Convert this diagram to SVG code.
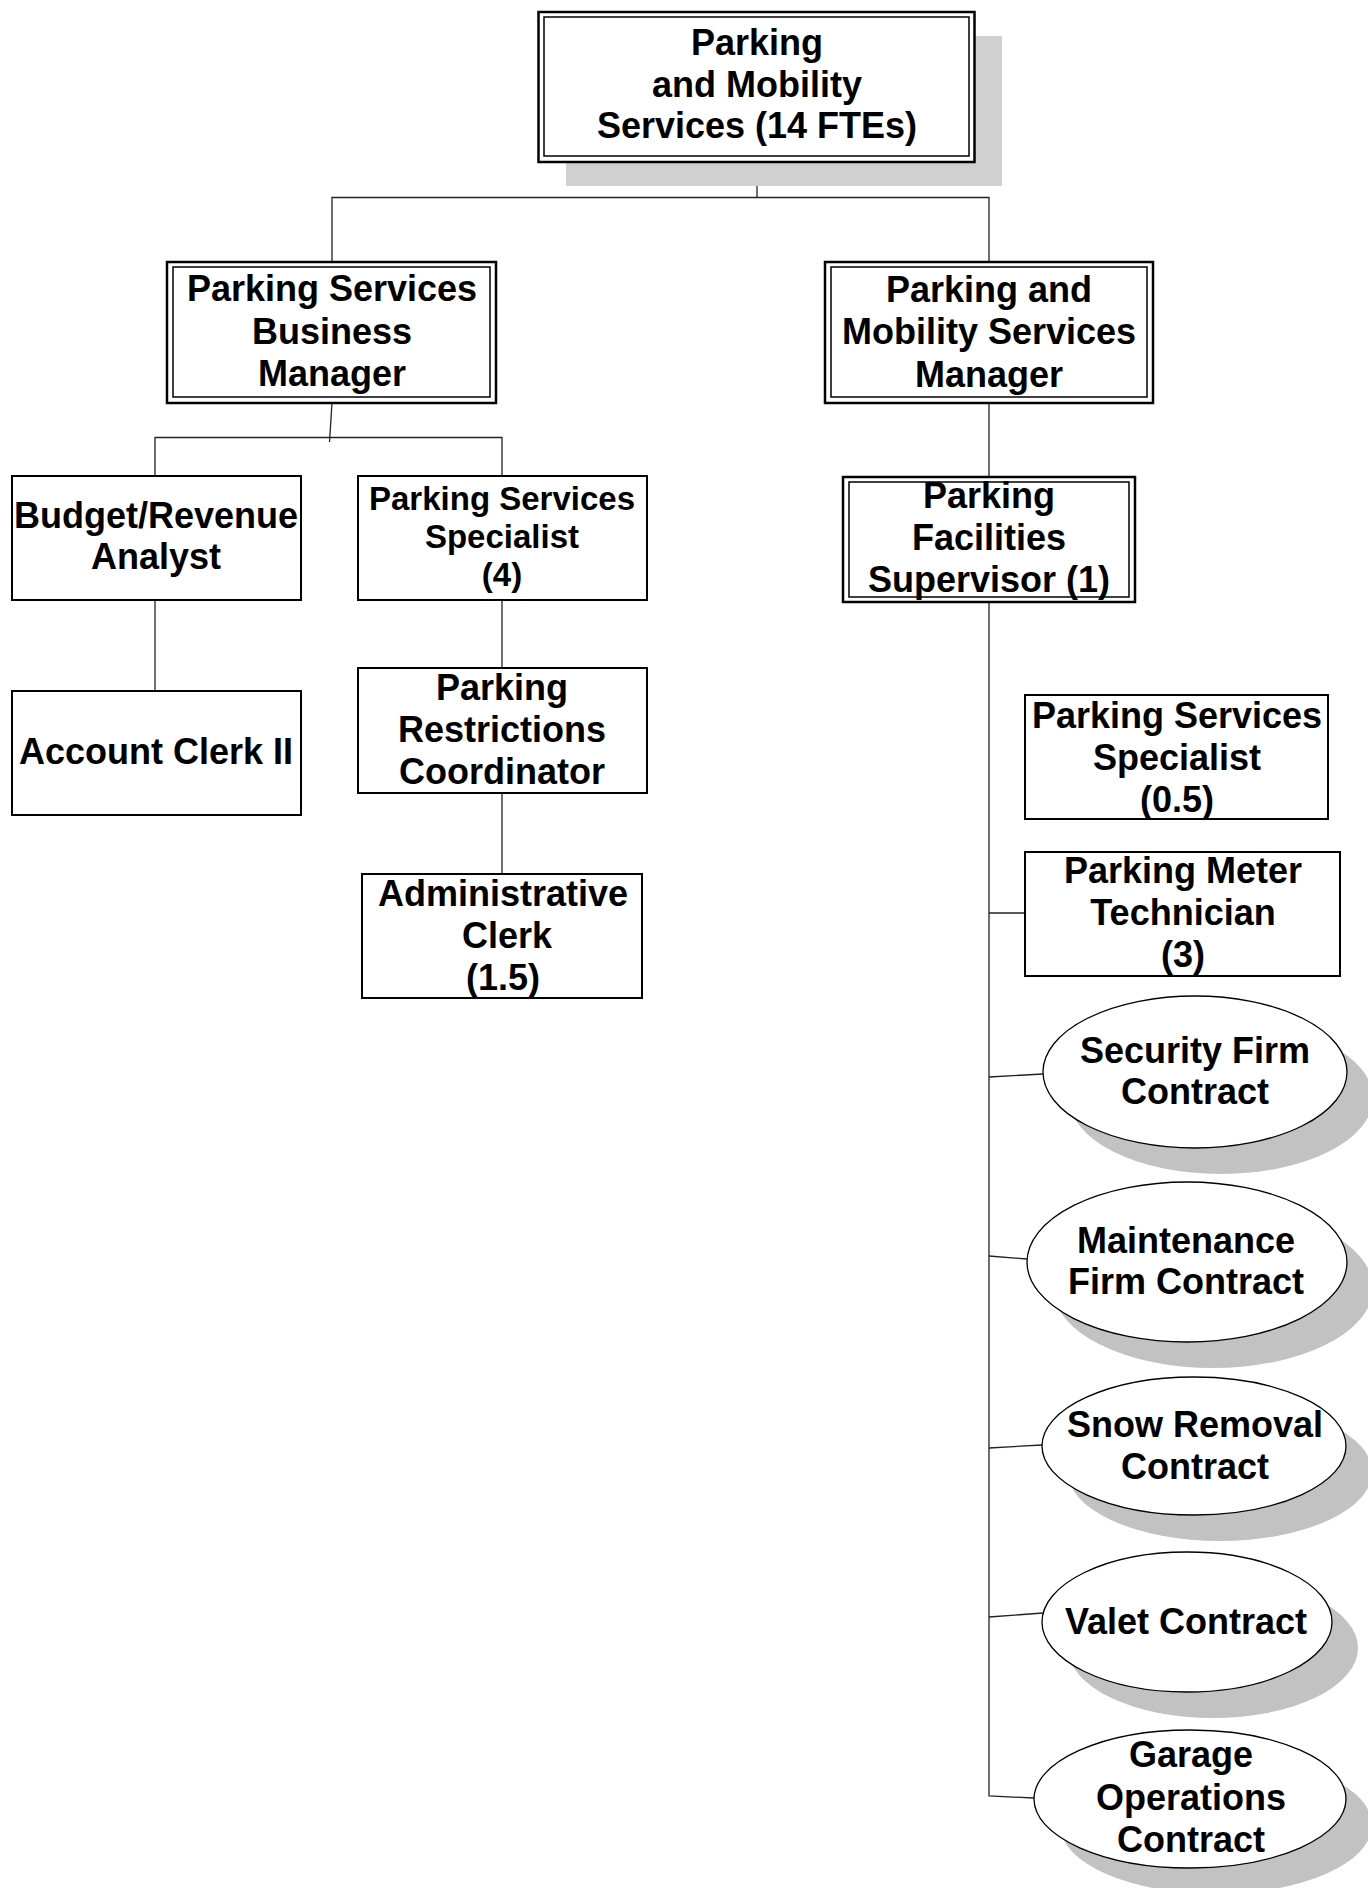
<svg xmlns="http://www.w3.org/2000/svg" width="1368" height="1888" viewBox="0 0 1368 1888">
  <style>
    .box { fill: #ffffff; stroke: #000000; stroke-width: 2; }
    .outer { fill: #ffffff; stroke: #000000; stroke-width: 2.5; }
    .inner { fill: none; stroke: #000000; stroke-width: 1.5; }
    .oval { fill: #ffffff; stroke: #000000; stroke-width: 1.3; }
    .shade { fill: #d0d0d0; stroke: none; }
    .oshade { fill: #c2c2c2; stroke: none; }
    .wire { fill: none; stroke: #222222; stroke-width: 1.3; }
    text { font-family: "Liberation Sans", Arial, sans-serif; font-weight: bold; font-size: 36px; fill: #000000; text-anchor: middle; }
    .sm { font-size: 33px; }
  </style>

  <!-- reporting lines -->
  <g id="connectors">
    <polyline class="wire" points="757,162 757,197.5"/>
    <polyline class="wire" points="332,262 332,197.5 989,197.5 989,262"/>
    <polyline class="wire" points="332,403 329.5,442"/>
    <polyline class="wire" points="155,476 155,437.5 502,437.5 502,476"/>
    <line class="wire" x1="155" y1="600" x2="155" y2="691"/>
    <line class="wire" x1="502" y1="600" x2="502" y2="668"/>
    <line class="wire" x1="502" y1="793" x2="502" y2="874"/>
    <line class="wire" x1="989" y1="403" x2="989" y2="477"/>
    <polyline class="wire" points="989,602 989,1796 1034,1798"/>
    <line class="wire" x1="989" y1="913" x2="1025" y2="913"/>
    <line class="wire" x1="989" y1="1077" x2="1043" y2="1074"/>
    <line class="wire" x1="989" y1="1256" x2="1027" y2="1259"/>
    <line class="wire" x1="989" y1="1448" x2="1042" y2="1445"/>
    <line class="wire" x1="989" y1="1617" x2="1043" y2="1613"/>
  </g>

  <g id="pms">
    <rect class="shade" x="566" y="36" width="436" height="150"/>
    <rect class="outer" x="538.5" y="12" width="436" height="150"/>
    <rect class="inner" x="544" y="17" width="425" height="139"/>
    <text x="757" y="55">Parking</text>
    <text x="757" y="97">and Mobility</text>
    <text x="757" y="138">Services (14 FTEs)</text>
  </g>

  <g id="business-manager">
    <rect class="outer" x="167" y="262" width="329" height="141"/>
    <rect class="inner" x="173" y="267" width="317" height="130"/>
    <text x="332" y="301">Parking Services</text>
    <text x="332" y="344">Business</text>
    <text x="332" y="386">Manager</text>
  </g>

  <g id="mobility-manager">
    <rect class="outer" x="825" y="262" width="328" height="141"/>
    <rect class="inner" x="831" y="267" width="316" height="130"/>
    <text x="989" y="302">Parking and</text>
    <text x="989" y="344">Mobility Services</text>
    <text x="989" y="387">Manager</text>
  </g>

  <g id="budget-analyst">
    <rect class="box" x="12" y="476" width="289" height="124"/>
    <text x="156" y="528">Budget/Revenue</text>
    <text x="156" y="569">Analyst</text>
  </g>

  <g id="pss-4">
    <rect class="box" x="358" y="476" width="289" height="124"/>
    <text class="sm" x="502" y="510">Parking Services</text>
    <text class="sm" x="502" y="548">Specialist</text>
    <text class="sm" x="502" y="586">(4)</text>
  </g>

  <g id="account-clerk">
    <rect class="box" x="12" y="691" width="289" height="124"/>
    <text x="156" y="764">Account Clerk II</text>
  </g>

  <g id="restrictions-coordinator">
    <rect class="box" x="358" y="668" width="289" height="125"/>
    <text x="502" y="700">Parking</text>
    <text x="502" y="742">Restrictions</text>
    <text x="502" y="784">Coordinator</text>
  </g>

  <g id="admin-clerk">
    <rect class="box" x="362" y="874" width="280" height="124"/>
    <text x="503" y="906">Administrative</text>
    <text x="507" y="948">Clerk</text>
    <text x="503" y="990">(1.5)</text>
  </g>

  <g id="facilities-supervisor">
    <rect class="outer" x="843" y="477" width="292" height="125"/>
    <rect class="inner" x="849" y="482" width="280" height="115"/>
    <text x="989" y="508">Parking</text>
    <text x="989" y="550">Facilities</text>
    <text x="989" y="592">Supervisor (1)</text>
  </g>

  <g id="pss-05">
    <rect class="box" x="1025" y="695" width="303" height="124"/>
    <text x="1177" y="728">Parking Services</text>
    <text x="1177" y="770">Specialist</text>
    <text x="1177" y="812">(0.5)</text>
  </g>

  <g id="meter-technician">
    <rect class="box" x="1025" y="852" width="315" height="124"/>
    <text x="1183" y="883">Parking Meter</text>
    <text x="1183" y="925">Technician</text>
    <text x="1183" y="967">(3)</text>
  </g>

  <g id="security-contract">
    <ellipse class="oshade" cx="1221" cy="1098" rx="152" ry="76"/>
    <ellipse class="oval" cx="1195" cy="1072" rx="152" ry="76"/>
    <text x="1195" y="1063">Security Firm</text>
    <text x="1195" y="1104">Contract</text>
  </g>

  <g id="maintenance-contract">
    <ellipse class="oshade" cx="1213" cy="1288" rx="160" ry="80"/>
    <ellipse class="oval" cx="1187" cy="1262" rx="160" ry="80"/>
    <text x="1186" y="1253">Maintenance</text>
    <text x="1186" y="1294">Firm Contract</text>
  </g>

  <g id="snow-contract">
    <ellipse class="oshade" cx="1220" cy="1472" rx="152" ry="69"/>
    <ellipse class="oval" cx="1194" cy="1446" rx="152" ry="69"/>
    <text x="1195" y="1437">Snow Removal</text>
    <text x="1195" y="1479">Contract</text>
  </g>

  <g id="valet-contract">
    <ellipse class="oshade" cx="1213" cy="1648" rx="145" ry="70"/>
    <ellipse class="oval" cx="1187" cy="1622" rx="145" ry="70"/>
    <text x="1186" y="1634">Valet Contract</text>
  </g>

  <g id="garage-contract">
    <ellipse class="oshade" cx="1216" cy="1825" rx="156" ry="69"/>
    <ellipse class="oval" cx="1190" cy="1799" rx="156" ry="69"/>
    <text x="1191" y="1767">Garage</text>
    <text x="1191" y="1810">Operations</text>
    <text x="1191" y="1852">Contract</text>
  </g>
</svg>
